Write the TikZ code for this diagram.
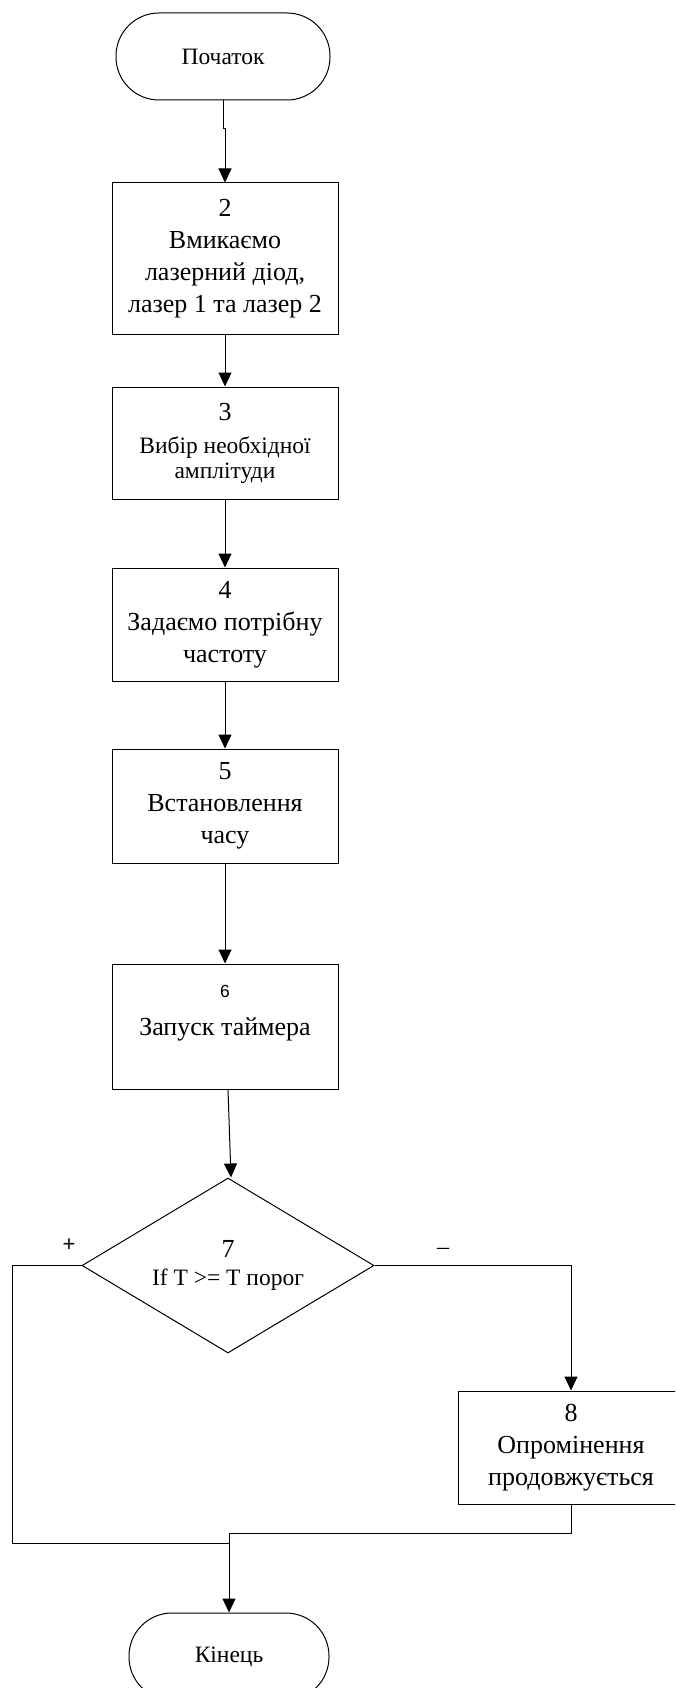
\documentclass[tikz,border=0pt]{standalone}
\usepackage{fontspec}
\setmainfont{Liberation Serif}
\setsansfont{Liberation Sans}
\usetikzlibrary{calc,shapes.geometric,arrows.meta}

\tikzset{
  blok/.style={draw, line width=1pt, minimum width=226pt, align=center,
    inner sep=0pt, font=\fontsize{26}{32}\selectfont},
  termin/.style={draw, line width=1pt, rounded corners=43pt, minimum height=87pt,
    inner sep=0pt, font=\fontsize{23.5}{28}\selectfont},
  umova/.style={draw, diamond, aspect=1.67, line width=1pt, minimum width=292pt,
    minimum height=175pt, inner sep=0pt, align=center, font=\fontsize{23.5}{28}\selectfont},
  strilka/.style={line width=1pt, -{Triangle[length=14pt,width=13pt]}},
  lin/.style={line width=1pt}
}

\begin{document}
\begin{tikzpicture}[x=1pt,y=-1pt]
  \useasboundingbox (0,0) rectangle (675,1688);
  \clip (0,0) rectangle (675,1688);

  \coordinate (P) at (223,56.5);
  \coordinate (B2) at (225,258.5);
  \coordinate (B3) at (225,443);
  \coordinate (B4) at (225,624.5);
  \coordinate (B5) at (225,806);
  \coordinate (B6) at (225,1026.5);
  \coordinate (D7) at (228,1265.5);
  \coordinate (B8) at (571,1447.5);
  \coordinate (K) at (229,1656.5);
  \coordinate (yesturn) at (12,1543);

  \node[termin, minimum width=214pt] (poch) at (P) {Початок};
  \node[blok, minimum height=151pt] (b2) at (B2) {2\\Вмикаємо\\лазерний діод,\\лазер 1 та лазер 2};
  \node[blok, minimum height=112pt, font=\fontsize{23.5}{25}\selectfont] (b3) at (B3)
    {{\fontsize{26}{30}\selectfont 3}\\[8pt]Вибір необхідної\\амплітуди};
  \node[blok, minimum height=113pt] (b4) at (B4) {4\\Задаємо потрібну\\частоту};
  \node[blok, minimum height=114pt] (b5) at (B5) {5\\Встановлення\\часу};
  \node[blok, minimum height=125pt] (b6) at (B6)
    {{\sffamily\fontsize{17.5}{20}\selectfont 6}\\[6pt]Запуск таймера\\\mbox{}};
  \node[umova] (d7) at (D7) {{\fontsize{26}{30}\selectfont 7}\\If T >= T порог};
  \node[blok, minimum height=113pt] (b8) at (B8) {8\\Опромінення\\продовжується};
  \node[termin, minimum width=200pt] (kin) at (K) {Кінець};

  \node[font=\sffamily\fontsize{22}{24}\selectfont] (plus) at (69,1245) {+};
  \node[font=\fontsize{24}{26}\selectfont] (minus) at (443,1251) {–};

  \draw[strilka] (poch.south) -- ++(0,28) -| (b2.north);
  \draw[strilka] (b2) -- (b3);
  \draw[strilka] (b3) -- (b4);
  \draw[strilka] (b4) -- (b5);
  \draw[strilka] (b5) -- (b6);
  \draw[strilka] (b6.south -| d7) -- ($(d7.north)+(3,0)$);
  \draw[strilka] (d7.east) -| (b8.north);
  \draw[lin] (d7.west) -| (yesturn) -- (yesturn -| kin.north);
  \draw[strilka] (b8.south) -- ++(0,29) -| (kin.north);
\end{tikzpicture}
\end{document}
